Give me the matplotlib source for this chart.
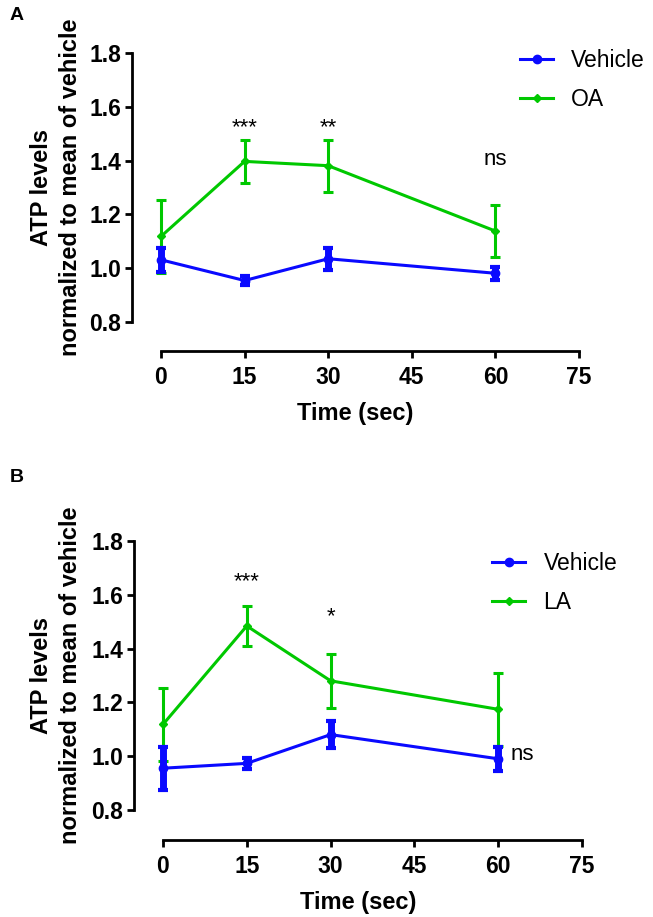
import matplotlib
matplotlib.use("Agg")
import matplotlib.pyplot as plt
from matplotlib.lines import Line2D

plt.rcParams['font.family'] = ['Liberation Sans', 'DejaVu Sans']

# data
time = [0, 15, 30, 60]

veh_a = [1.031, 0.954, 1.035, 0.981]
veh_a_err = [0.045, 0.015, 0.04, 0.025]
oa = [1.118, 1.397, 1.381, 1.138]
oa_err = [0.135, 0.08, 0.097, 0.098]

veh_b = [0.955, 0.973, 1.080, 0.990]
veh_b_err = [0.08, 0.02, 0.05, 0.045]
la = [1.118, 1.484, 1.280, 1.174]
la_err = [0.135, 0.075, 0.10, 0.135]

xticks = [0, 15, 30, 45, 60, 75]
yticks = [0.8, 1.0, 1.2, 1.4, 1.6, 1.8]

BLUE = '#0a0aff'
GREEN = '#00c800'

W, H = 653, 917
fig = plt.figure(figsize=(W / 100, H / 100), dpi=100)


def panel(rect, xlim, ylim, veh, veh_err, trt, trt_err, trt_name, leg_xy, pad, letter, letter_y):
    l, t, r, b = rect
    ax = fig.add_axes([l / W, 1 - b / H, (r - l) / W, (b - t) / H])
    ax.errorbar(time, trt, yerr=trt_err, color=GREEN, lw=2.2, marker='D', ms=4,
                elinewidth=2.2, capsize=3.5, capthick=2.2, zorder=2)
    ax.errorbar(time, veh, yerr=veh_err, color=BLUE, lw=2.2, marker='o', ms=6,
                elinewidth=5, capsize=3.5, capthick=3, zorder=3)
    ax.set_xlim(*xlim)
    ax.set_ylim(*ylim)
    for s in ['top', 'right']:
        ax.spines[s].set_visible(False)
    ax.spines['left'].set_bounds(0.8, 1.8)
    ax.spines['bottom'].set_bounds(0, 75)
    for s in ['left', 'bottom']:
        ax.spines[s].set_linewidth(2)
    ax.set_xticks(xticks)
    ax.set_yticks(yticks)
    ax.set_yticklabels([f'{v:.1f}' for v in yticks])
    ax.tick_params(width=2, length=5, labelsize=16.5, pad=3)
    ax.tick_params(axis='x', pad=6)
    for lab in ax.get_xticklabels() + ax.get_yticklabels():
        lab.set_fontweight('bold')
    ax.set_xlabel('Time (sec)', fontsize=17, fontweight='bold', labelpad=9)
    fig.text(56 / W, 1 - ((t + 322 - 53 + t) / 2) / H,
             'ATP levels\nnormalized to mean of vehicle', fontsize=17,
             fontweight='bold', rotation=90, ha='center', va='center',
             multialignment='center', linespacing=1.3)
    handles = [Line2D([], [], color=BLUE, lw=2.2, marker='o', ms=6),
               Line2D([], [], color=GREEN, lw=2.2, marker='D', ms=4)]
    ax.legend(handles, ['Vehicle', trt_name], loc='upper left', frameon=False,
              bbox_to_anchor=(leg_xy[0] / W, 1 - leg_xy[1] / H),
              bbox_transform=fig.transFigure, fontsize=16.5,
              handlelength=1.45, handletextpad=pad, labelspacing=0.7,
              borderpad=0, borderaxespad=0)
    fig.text(10 / W, 1 - letter_y / H, letter, fontsize=14, fontweight='bold',
             va='center', ha='left')
    return ax


ax_a = panel((132, 53, 579, 351), (-5.2, 75), (0.692, 1.8), veh_a, veh_a_err,
             oa, oa_err, 'OA', (520, 49), 0.75, 'A', 16)
ax_a.text(15, 1.503, '***', ha='center', va='baseline', fontsize=16)
ax_a.text(30, 1.503, '**', ha='center', va='baseline', fontsize=16)
ax_a.text(60, 1.405, 'ns', ha='center', va='center', fontsize=16)

ax_b = panel((134, 541, 582, 840), (-5.19, 75), (0.688, 1.8), veh_b, veh_b_err,
             la, la_err, 'LA', (492, 552), 0.8, 'B', 478)
ax_b.text(15, 1.629, '***', ha='center', va='baseline', fontsize=16)
ax_b.text(30, 1.499, '*', ha='center', va='baseline', fontsize=16)
ax_b.text(62.3, 1.005, 'ns', ha='left', va='center', fontsize=16)

fig.savefig('out.png', dpi=100)
